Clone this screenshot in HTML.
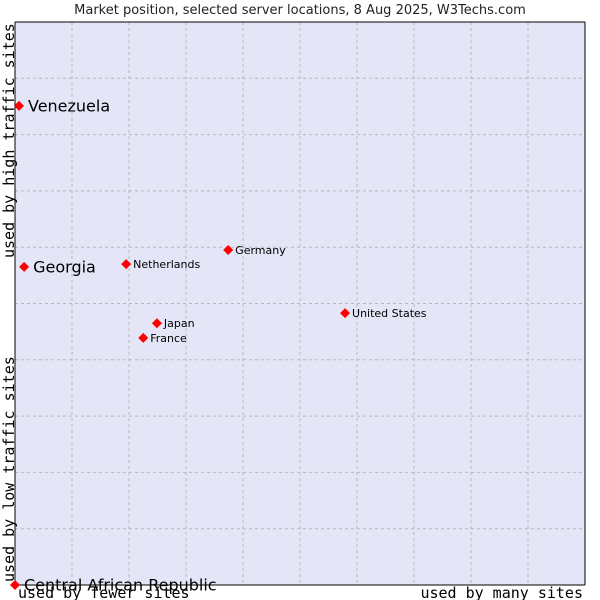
<!DOCTYPE html>
<html><head><meta charset="utf-8"><style>
body{margin:0;background:#fff;width:600px;height:600px;overflow:hidden}
svg{display:block}
</style></head><body>
<svg id="chart" width="600" height="600" xmlns="http://www.w3.org/2000/svg">
<text x="300" y="14" text-anchor="middle" font-family="DejaVu Sans, sans-serif" font-size="13" fill="#222">Market position, selected server locations, 8 Aug 2025, W3Techs.com</text>
<rect x="15" y="22" width="570" height="563" fill="#e4e6f8"/>
<g id="grid"></g>
<line x1="15" y1="22" x2="15" y2="585" stroke="#000"/>
<line x1="15" y1="585" x2="585" y2="585" stroke="#000"/>
<line x1="15" y1="22" x2="585" y2="22" stroke="#000"/>
<line x1="585" y1="22" x2="585" y2="585" stroke="#000"/>
<g id="points"></g>
<text x="18" y="598" font-family="DejaVu Sans Mono, monospace" font-size="15" fill="#000">used by fewer sites</text>
<text x="583" y="598" text-anchor="end" font-family="DejaVu Sans Mono, monospace" font-size="15" fill="#000">used by many sites</text>
<text transform="translate(14,582) rotate(-90)" font-family="DejaVu Sans Mono, monospace" font-size="15" fill="#000">used by low traffic sites</text>
<text transform="translate(14,258) rotate(-90)" font-family="DejaVu Sans Mono, monospace" font-size="15" fill="#000">used by high traffic sites</text>
</svg>
<script>
const countries=["Venezuela","Georgia","Netherlands","Germany","United States","Japan","France","Central African Republic"];
const xValues=[0.7,1.6,19.5,37.4,57.9,24.9,22.5,0];
const yValues=[85.1,56.5,57.0,59.5,48.3,46.5,43.9,0];
const bigLabel=[true,true,false,false,false,false,false,true];
const NS="http://www.w3.org/2000/svg";
const L=15,R=585,T=22,B=585;
const sx=v=>L+v/100*(R-L), sy=v=>B-v/100*(B-T);
const grid=document.getElementById('grid');
for(let i=1;i<10;i++){
 const v=document.createElementNS(NS,'line');
 
 
 v.setAttribute('x1',sx(i*10));v.setAttribute('x2',sx(i*10));v.setAttribute('y1',T);v.setAttribute('y2',B);
 v.setAttribute('stroke','#b8b8b8');v.setAttribute('stroke-dasharray','3,3');grid.appendChild(v);
 const h=document.createElementNS(NS,'line');
 
 
 h.setAttribute('y1',sy(i*10));h.setAttribute('y2',sy(i*10));h.setAttribute('x1',L);h.setAttribute('x2',R);
 h.setAttribute('stroke','#b8b8b8');h.setAttribute('stroke-dasharray','3,3');grid.appendChild(h);
}
const pts=document.getElementById('points');
countries.forEach((c,i)=>{
 const x=sx(xValues[i]),y=sy(yValues[i]);
 const d=document.createElementNS(NS,'path');
 
 
 d.setAttribute('d',`M${x-5} ${y}L${x} ${y-5}L${x+5} ${y}L${x} ${y+5}Z`);
 d.setAttribute('fill','#ff0000');pts.appendChild(d);
 const t=document.createElementNS(NS,'text');
 
 
 t.setAttribute('x',x+(bigLabel[i]?9:7));t.setAttribute('y',y+(bigLabel[i]?5.5:4));
 t.setAttribute('font-family','DejaVu Sans, sans-serif');
 t.setAttribute('font-size',bigLabel[i]?'16':'11');
 t.setAttribute('fill','#000');t.textContent=c;pts.appendChild(t);
});
</script>
</body></html>
